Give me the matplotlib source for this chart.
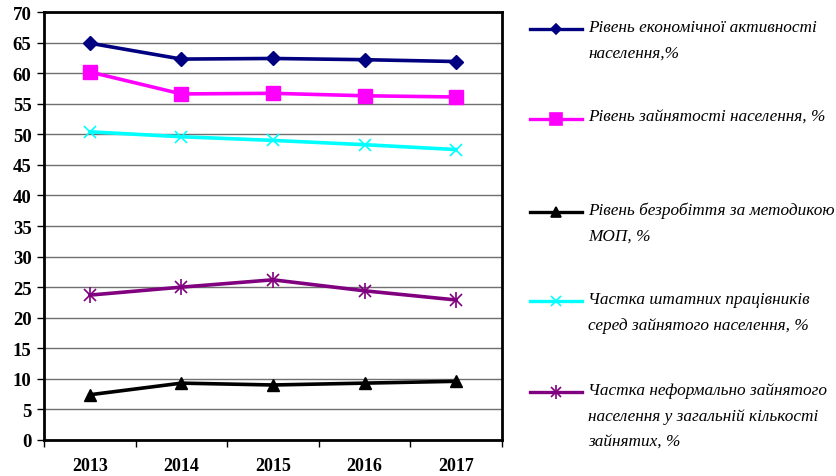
import matplotlib.pyplot as plt
from matplotlib.lines import Line2D

years = ["2013", "2014", "2015", "2016", "2017"]
activity = [64.9, 62.3, 62.4, 62.2, 61.9]
employment = [60.2, 56.6, 56.7, 56.3, 56.1]
unemployment = [7.4, 9.3, 9.0, 9.3, 9.6]
staff_share = [50.4, 49.6, 49.0, 48.3, 47.5]
informal_share = [23.7, 25.0, 26.2, 24.4, 22.9]

labels = [
    "Рівень економічної активності\nнаселення,%",
    "Рівень зайнятості населення, %",
    "Рівень безробіття за методикою\nМОП, %",
    "Частка штатних працівників\nсеред зайнятого населення, %",
    "Частка неформально зайнятого\nнаселення у загальній кількості\nзайнятих, %",
]
series = [activity, employment, unemployment, staff_share, informal_share]
colors = ["#000080", "#FF00FF", "#000000", "#00FFFF", "#800080"]
markers = ["D", "s", "^", "x", "x"]
msizes = [7, 10, 9, 9, 9]

plt.rcParams["font.family"] = ["Liberation Serif", "DejaVu Serif"]

fig = plt.figure(figsize=(8.36, 4.77), dpi=100)
ax = fig.add_axes([44 / 836, 36 / 477, 458 / 836, 428 / 477])

x = list(range(len(years)))
for i, (vals, c, m, ms) in enumerate(zip(series, colors, markers, msizes)):
    ax.plot(x, vals, color=c, lw=2.6, marker=m, markersize=ms,
            markeredgewidth=1.2 if m == "x" else 1, zorder=3)
    if i == 4:
        # star marker: add a vertical bar on top of the x
        ax.plot(x, vals, ls="none", marker="|", markersize=11, color=c, markeredgewidth=1.2, zorder=3)

ax.set_xlim(-0.5, len(years) - 0.5)
ax.set_ylim(0, 70)
ax.set_yticks(range(0, 71, 5))
ax.set_xticks(x)
ax.set_xticklabels(years, fontsize=13, fontweight="bold")
ax.set_xticks([i - 0.5 for i in range(len(years) + 1)], minor=True)
ax.tick_params(axis="x", which="major", length=0, pad=12)
ax.tick_params(axis="x", which="minor", length=5, width=1, direction="out")
ax.tick_params(axis="y", length=5, width=1, direction="out", pad=4)
for lab in ax.get_yticklabels():
    lab.set_fontsize(13.5)
    lab.set_fontweight("bold")
ax.yaxis.grid(True, color="#707070", lw=1)
ax.set_axisbelow(True)
for s in ax.spines.values():
    s.set_linewidth(2)
    s.set_color("black")

# legend drawn at the right
ys = [30, 120, 213, 302, 393]
for i, (lab, c, m, ms, y) in enumerate(zip(labels, colors, markers, msizes, ys)):
    yf = 1 - y / 477
    fig.add_artist(Line2D([530 / 836, 582 / 836], [yf, yf], color=c, lw=2.4,
                          transform=fig.transFigure))
    fig.add_artist(Line2D([556 / 836], [yf], color=c, marker=m, markersize=ms * 0.8,
                          markeredgewidth=1.2, transform=fig.transFigure))
    if i == 4:
        fig.add_artist(Line2D([556 / 836], [yf], color=c, marker="|", markersize=10,
                              markeredgewidth=1.2, transform=fig.transFigure))
    fig.text(588 / 836, yf + 10 / 477, lab, fontsize=12.4, style="italic",
             va="top", ha="left", linespacing=1.8)

fig.savefig("out.png", dpi=100)
